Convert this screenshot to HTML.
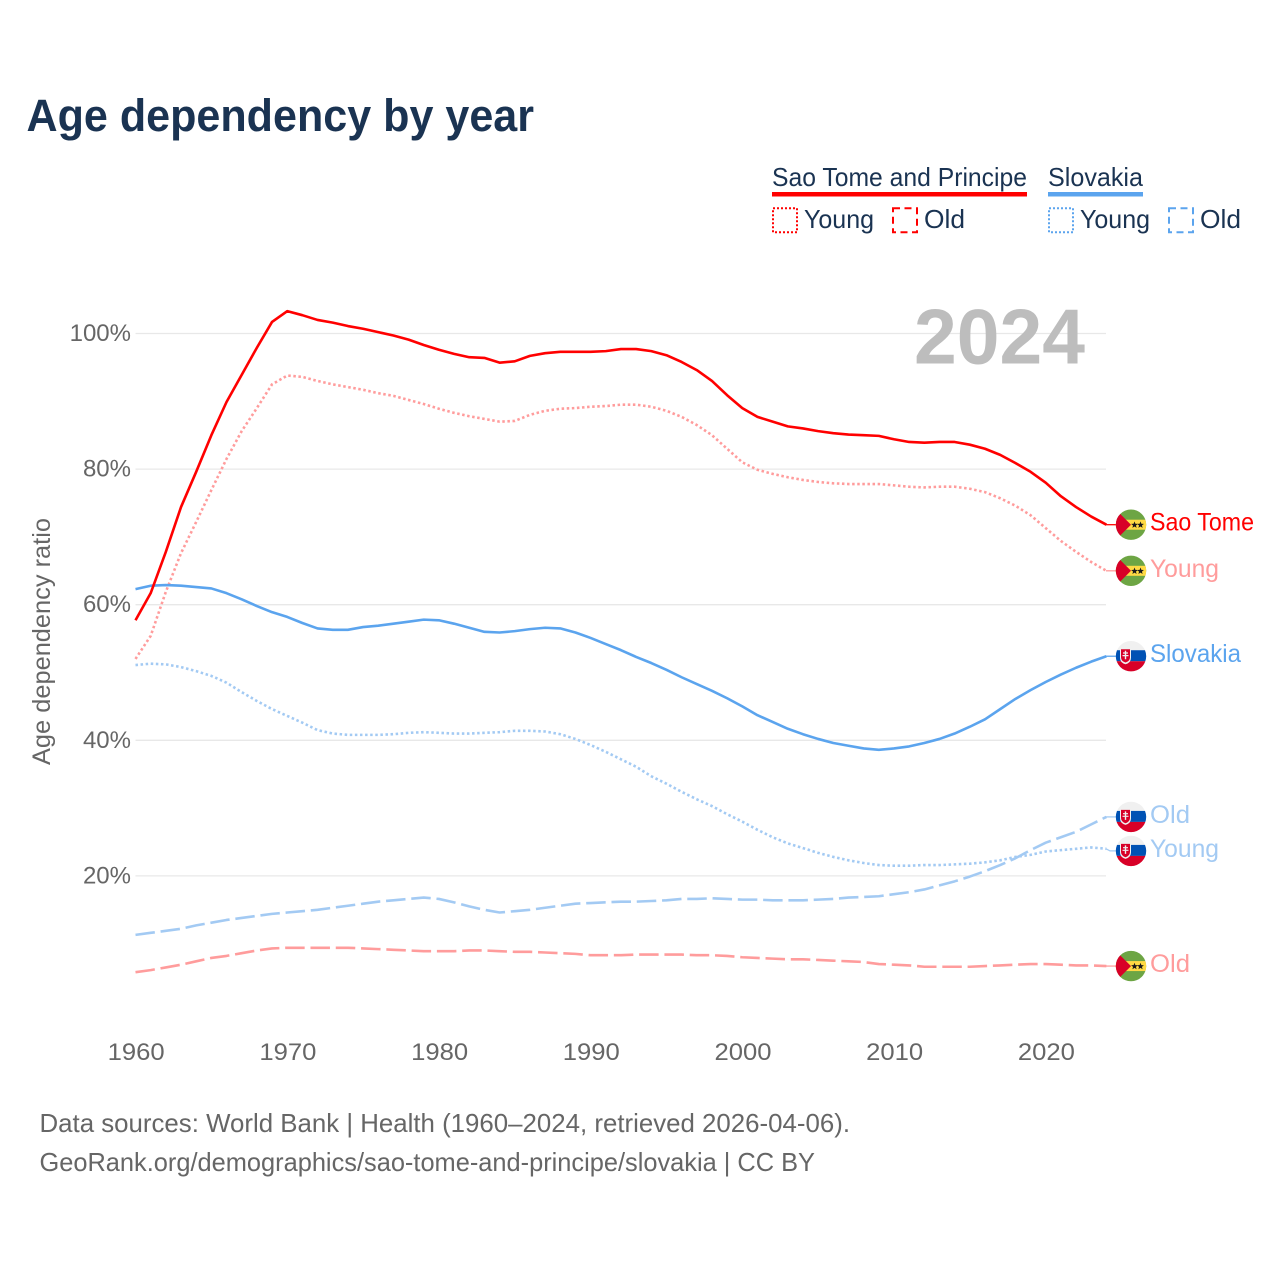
<!DOCTYPE html>
<html lang="en">
<head>
<meta charset="utf-8">
<title>Age dependency by year</title>
<style>
html,body{margin:0;padding:0;background:#fff}
svg{display:block;font-family:"Liberation Sans",sans-serif}
</style>
</head>
<body>
<svg id="chart" xmlns="http://www.w3.org/2000/svg" width="1280" height="1280" viewBox="0 0 1280 1280">
<text x="26.5" y="131" font-size="45" font-weight="700" fill="#1a3352" textLength="507.5" lengthAdjust="spacingAndGlyphs">Age dependency by year</text>

<g>
<g>
<text x="772" y="186" font-size="26" fill="#1a3352" textLength="255" lengthAdjust="spacingAndGlyphs">Sao Tome and Principe</text>
<rect x="772" y="192" width="255" height="4.5" fill="#ff0000"/>
<rect x="773" y="208.3" width="24" height="24" fill="none" stroke="#ff0000" stroke-width="2" stroke-dasharray="2 2"/>
<text x="804" y="228" font-size="26" fill="#1a3352" textLength="70" lengthAdjust="spacingAndGlyphs">Young</text>
<rect x="893" y="208.3" width="24" height="24" fill="none" stroke="#ff0000" stroke-width="2" stroke-dasharray="7 4.5"/>
<text x="924" y="228" font-size="26" fill="#1a3352" textLength="41" lengthAdjust="spacingAndGlyphs">Old</text>
</g>
<g>
<text x="1048" y="186" font-size="26" fill="#1a3352" textLength="95" lengthAdjust="spacingAndGlyphs">Slovakia</text>
<rect x="1048" y="192" width="95" height="4.5" fill="#5ba4ee"/>
<rect x="1049" y="208.3" width="24" height="24" fill="none" stroke="#5ba4ee" stroke-width="2" stroke-dasharray="2 2"/>
<text x="1080" y="228" font-size="26" fill="#1a3352" textLength="70" lengthAdjust="spacingAndGlyphs">Young</text>
<rect x="1169" y="208.3" width="24" height="24" fill="none" stroke="#5ba4ee" stroke-width="2" stroke-dasharray="7 4.5"/>
<text x="1200" y="228" font-size="26" fill="#1a3352" textLength="41" lengthAdjust="spacingAndGlyphs">Old</text>
</g>
</g>

<g id="grid"></g>
<g id="yticks"></g>
<g id="xticks"></g>
<text transform="translate(50,641.5) rotate(-90)" text-anchor="middle" font-size="25" fill="#666666" textLength="247" lengthAdjust="spacingAndGlyphs">Age dependency ratio</text>
<text x="1085" y="363.5" text-anchor="end" font-size="78" font-weight="700" fill="#bdbdbd" textLength="171" lengthAdjust="spacingAndGlyphs">2024</text>
<g id="series"></g>
<g id="endlabels"></g>

<text x="39.5" y="1132" font-size="26" fill="#666666" textLength="810.5" lengthAdjust="spacingAndGlyphs">Data sources: World Bank | Health (1960–2024, retrieved 2026-04-06).</text>
<text x="39.5" y="1171" font-size="26" fill="#666666" textLength="775.5" lengthAdjust="spacingAndGlyphs">GeoRank.org/demographics/sao-tome-and-principe/slovakia | CC BY</text>
</svg>
<script>
const firstYear = 1960;
const xTickYears = [1960, 1970, 1980, 1990, 2000, 2010, 2020];
const yTickValues = [20, 40, 60, 80, 100];

const saoTomeTotal = [57.7,61.7,67.8,74.4,79.6,85,89.9,93.9,97.9,101.7,103.3,102.7,102,101.6,101.1,100.7,100.2,99.7,99.1,98.3,97.6,97,96.5,96.4,95.7,95.9,96.7,97.1,97.3,97.3,97.3,97.4,97.7,97.7,97.4,96.8,95.8,94.6,93,90.9,89,87.7,87,86.3,86,85.6,85.3,85.1,85,84.9,84.4,84,83.9,84,84,83.6,83,82.1,80.9,79.6,78,76,74.4,73,71.8];
const saoTomeYoung = [52,55.4,61.9,67.6,72.2,76.9,81.5,85.6,89,92.5,93.8,93.6,93,92.5,92.1,91.7,91.2,90.8,90.2,89.6,88.9,88.3,87.8,87.4,87,87.1,88,88.6,88.9,89,89.2,89.3,89.5,89.5,89.2,88.6,87.7,86.5,85,83,81,79.9,79.3,78.8,78.4,78.1,77.9,77.8,77.8,77.8,77.6,77.4,77.3,77.4,77.4,77.1,76.6,75.7,74.6,73.2,71.3,69.4,67.8,66.3,65];
const saoTomeOld = [5.8,6.1,6.5,6.9,7.4,7.9,8.2,8.6,9,9.3,9.4,9.4,9.4,9.4,9.4,9.3,9.2,9.1,9,8.9,8.9,8.9,9,9,8.9,8.8,8.8,8.7,8.6,8.5,8.3,8.3,8.3,8.4,8.4,8.4,8.4,8.3,8.3,8.2,8,7.9,7.8,7.7,7.7,7.6,7.5,7.4,7.3,7,6.9,6.8,6.6,6.6,6.6,6.6,6.7,6.8,6.9,7,7,6.9,6.8,6.8,6.7];
const slovakiaTotal = [62.3,62.8,62.9,62.8,62.6,62.4,61.7,60.8,59.8,58.9,58.2,57.3,56.5,56.3,56.3,56.7,56.9,57.2,57.5,57.8,57.7,57.2,56.6,56,55.9,56.1,56.4,56.6,56.5,55.9,55.1,54.2,53.3,52.3,51.4,50.4,49.3,48.3,47.3,46.2,45,43.7,42.7,41.7,40.9,40.2,39.6,39.2,38.8,38.6,38.8,39.1,39.6,40.2,41,42,43.1,44.6,46.1,47.4,48.6,49.7,50.7,51.6,52.4];
const slovakiaYoung = [51.1,51.3,51.2,50.8,50.2,49.5,48.5,47.1,45.8,44.6,43.6,42.6,41.5,41,40.8,40.8,40.8,40.9,41.1,41.2,41.1,41,41,41.1,41.2,41.4,41.4,41.3,40.9,40.2,39.3,38.3,37.2,36.1,34.7,33.6,32.4,31.3,30.3,29.1,28,26.8,25.7,24.8,24.1,23.4,22.8,22.3,21.9,21.6,21.5,21.5,21.6,21.6,21.7,21.8,22,22.3,22.8,23.1,23.6,23.8,24,24.2,24];
const slovakiaOld = [11.3,11.6,11.9,12.2,12.7,13.1,13.5,13.8,14.1,14.4,14.6,14.8,15,15.3,15.6,15.9,16.2,16.4,16.6,16.8,16.6,16.1,15.5,15,14.6,14.8,15,15.3,15.6,15.9,16,16.1,16.2,16.2,16.3,16.4,16.6,16.6,16.7,16.6,16.5,16.5,16.4,16.4,16.4,16.5,16.6,16.8,16.9,17,17.3,17.6,18,18.6,19.2,19.9,20.7,21.6,22.6,23.8,24.9,25.7,26.5,27.6,28.7];

const labelSao = 'Sao Tome';
const labelSlovakia = 'Slovakia';
const labelYoung = 'Young';
const labelOld = 'Old';

const NS = 'http://www.w3.org/2000/svg';
const plotLeft = 135.5, pxPerYear = 15.17, yZero = 1011.5, pxPerPct = 6.78, plotRight = 1106;
function xScale(year) { return plotLeft + (year - firstYear) * pxPerYear; }
function yScale(v) { return yZero - v * pxPerPct; }
function make(tag, parent, attrs) {
  const el = document.createElementNS(NS, tag);
  for (const k in attrs) el.setAttribute(k, attrs[k]);
  parent.appendChild(el);
  return el;
}

const gridG = document.getElementById('grid');
const yG = document.getElementById('yticks');
yTickValues.forEach(function (v) {
  const line = make('line', gridG, { x1: plotLeft, x2: plotRight, y1: yScale(v), y2: yScale(v), stroke: '#e8e8e8', 'stroke-width': 1.3 });
  
  
  const t = make('text', yG, { x: 131, y: yScale(v) + 7.5, 'text-anchor': 'end', 'font-size': 24, fill: '#666666' });
  
  
  t.textContent = v + '%';
});

const xG = document.getElementById('xticks');
xTickYears.forEach(function (yr) {
  const t = make('text', xG, { x: xScale(yr) + 0.7, y: 1060, 'text-anchor': 'middle', 'font-size': 24, fill: '#666666', textLength: 57, lengthAdjust: 'spacingAndGlyphs' });
  
  
  t.textContent = yr;
});

const dotted = '2.5 2.6', dashed = '19.5 5.8';
const seriesList = [
  { key: 'slovakia-old', values: slovakiaOld, color: '#a3caf3', dash: dashed, label: labelOld, flag: 'sk' },
  { key: 'sao-tome-old', values: saoTomeOld, color: '#ff9c9c', dash: dashed, label: labelOld, flag: 'st' },
  { key: 'slovakia-young', values: slovakiaYoung, color: '#a3caf3', dash: dotted, label: labelYoung, flag: 'sk' },
  { key: 'sao-tome-young', values: saoTomeYoung, color: '#ff9c9c', dash: dotted, label: labelYoung, flag: 'st' },
  { key: 'slovakia-total', values: slovakiaTotal, color: '#5ba4ee', dash: '', label: labelSlovakia, flag: 'sk' },
  { key: 'sao-tome-total', values: saoTomeTotal, color: '#ff0000', dash: '', label: labelSao, flag: 'st' }
];

const seriesG = document.getElementById('series');
seriesList.forEach(function (s) {
  const pts = s.values.map(function (v, i) { return xScale(firstYear + i).toFixed(2) + ',' + yScale(v).toFixed(2); }).join(' ');
  const attrs = { points: pts, fill: 'none', stroke: s.color, 'stroke-width': 2.6, 'stroke-linejoin': 'round' };
  if (s.dash) attrs['stroke-dasharray'] = s.dash;
  const line = make('polyline', seriesG, attrs);
  
  
});

// End labels: flags are dodged so they never overlap
const minSep = 34;
const ordered = seriesList.map(function (s) {
  const endY = yScale(s.values[s.values.length - 1]);
  return { s: s, endY: endY, y: endY };
}).sort(function (a, b) { return a.endY - b.endY; });
for (let i = 1; i < ordered.length; i++) {
  if (ordered[i].y - ordered[i - 1].y < minSep) ordered[i].y = ordered[i - 1].y + minSep;
}

function starPoints(cx, cy, r) {
  const out = [];
  for (let i = 0; i < 10; i++) {
    const a = -Math.PI / 2 + i * Math.PI / 5;
    const rad = i % 2 ? r * 0.42 : r;
    out.push((cx + rad * Math.cos(a)).toFixed(2) + ',' + (cy + rad * Math.sin(a)).toFixed(2));
  }
  return out.join(' ');
}

const defs = make('defs', document.getElementById('chart'), {});
const clip = make('clipPath', defs, { id: 'flag-clip' });
make('circle', clip, { cx: 0, cy: 0, r: 15.2 });

function drawFlag(parent, kind) {
  if (kind === 'st') {
    make('rect', parent, { x: -16, y: -16, width: 32, height: 32, fill: '#6da544' });
    make('rect', parent, { x: -16, y: -5, width: 32, height: 10, fill: '#ffda44' });
    make('polygon', parent, { points: '-16,-16 0,0 -16,16', fill: '#d80027' });
    make('polygon', parent, { points: starPoints(3.5, 0.3, 3.6), fill: '#1a1a1a' });
    make('polygon', parent, { points: starPoints(9.5, 0.3, 3.6), fill: '#1a1a1a' });
  } else {
    make('rect', parent, { x: -16, y: -16, width: 32, height: 32, fill: '#f0f0f0' });
    make('rect', parent, { x: -16, y: -6, width: 32, height: 11, fill: '#0052b4' });
    make('rect', parent, { x: -16, y: 5, width: 32, height: 11, fill: '#d80027' });
    make('path', parent, { d: 'M-11,-8H0V1.5Q0,6.5 -5.5,8Q-11,6.5 -11,1.5Z', fill: '#f0f0f0' });
    make('path', parent, { d: 'M-10,-7H-1V1Q-1,5 -5.5,6.3Q-10,5 -10,1Z', fill: '#d80027' });
    make('path', parent, { d: 'M-6.2,-5.5H-4.8V-3.8H-3V-2.6H-4.8V-1.2H-2.5V0H-4.8V3H-6.2V0H-8.5V-1.2H-6.2V-2.6H-8V-3.8H-6.2Z', fill: '#f0f0f0' });
  }
}

const labelsG = document.getElementById('endlabels');
ordered.forEach(function (o) {
  const s = o.s;
  const c = make('polyline', labelsG, { points: plotRight + ',' + o.endY.toFixed(2) + ' 1110,' + o.y.toFixed(2) + ' 1116,' + o.y.toFixed(2), fill: 'none', stroke: s.color, 'stroke-width': 1.3 });
  
  

  const g = make('g', labelsG, { transform: 'translate(1131,' + o.y.toFixed(2) + ')', 'clip-path': 'url(#flag-clip)' });
  
  
  drawFlag(g, s.flag);

  const widths = { 'Sao Tome': 104, 'Slovakia': 91, 'Young': 69, 'Old': 40 };
  const t = make('text', labelsG, { x: 1150, y: o.y + 6, 'font-size': 25, fill: s.color, textLength: widths[s.label], lengthAdjust: 'spacingAndGlyphs' });
  
  
  t.textContent = s.label;
});
</script>
</body>
</html>
